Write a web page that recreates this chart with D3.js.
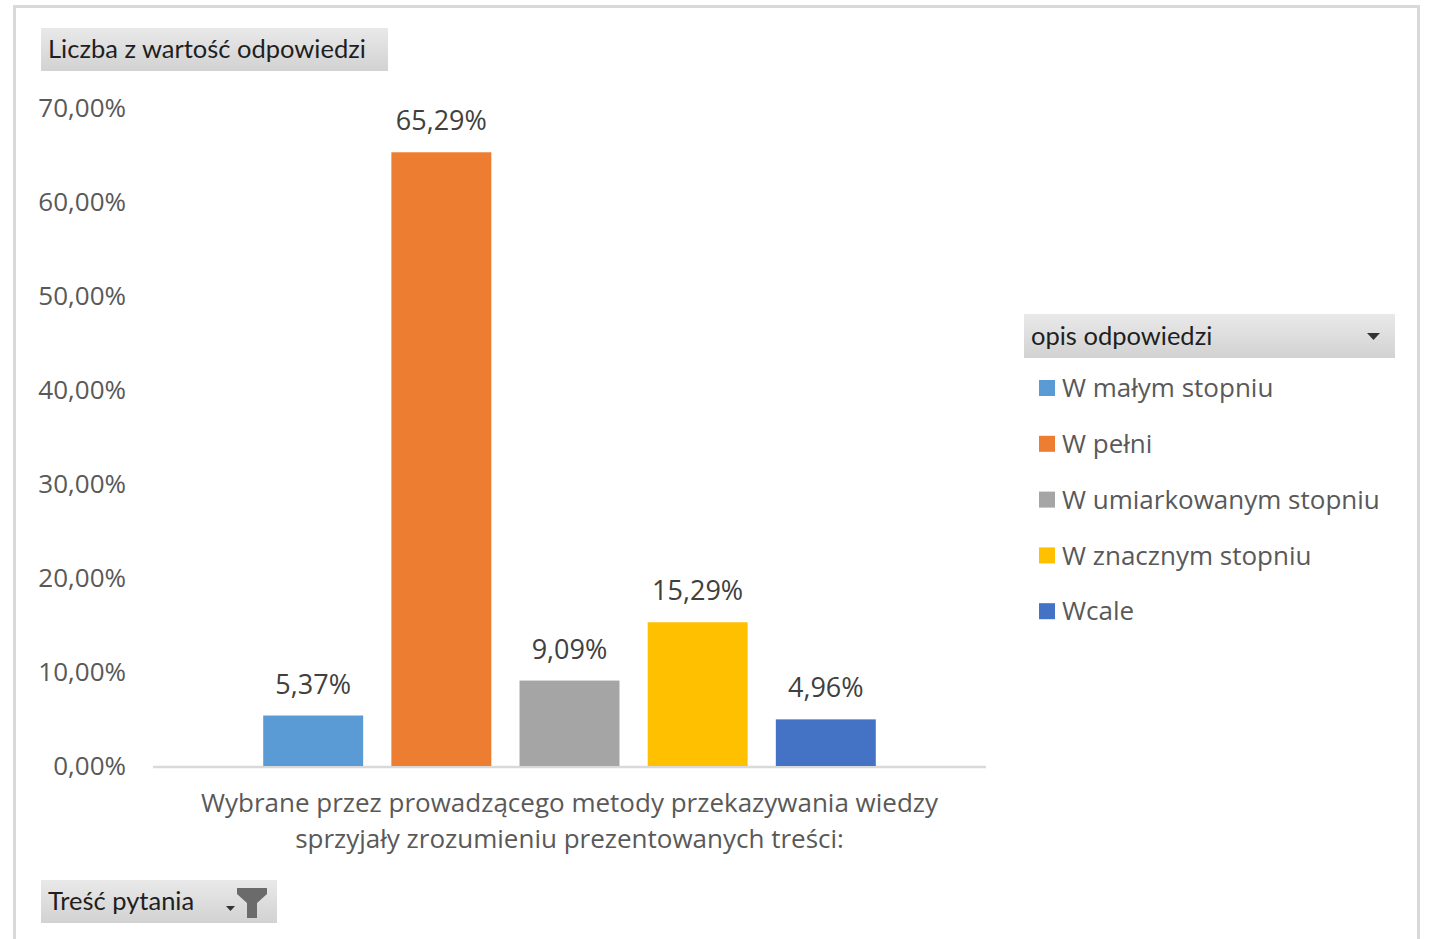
<!DOCTYPE html>
<html><head><meta charset="utf-8">
<script src="https://cdn.jsdelivr.net/npm/d3@7"></script>
<style>
html,body{margin:0;padding:0;background:#fff;}
svg{display:block;font-family:"Open Sans",Lato,sans-serif;}
</style></head>
<body>
<svg id="chart" width="1432" height="939"></svg>
<script>
const categories = ["Wybrane przez prowadzącego metody przekazywania wiedzy sprzyjały zrozumieniu prezentowanych treści:"];
const categoryLines = ["Wybrane przez prowadzącego metody przekazywania wiedzy", "sprzyjały zrozumieniu prezentowanych treści:"];
const seriesNames = ["W małym stopniu", "W pełni", "W umiarkowanym stopniu", "W znacznym stopniu", "Wcale"];
const seriesValues = [5.37, 65.29, 9.09, 15.29, 4.96];
const seriesColors = ["#5B9BD5", "#ED7D31", "#A5A5A5", "#FFC000", "#4472C4"];
const yTicks = [0, 10, 20, 30, 40, 50, 60, 70];
const valueButton = "Liczba z wartość odpowiedzi";
const legendTitle = "opis odpowiedzi";
const axisButton = "Treść pytania";

const fmt = v => v.toFixed(2).replace(".", ",") + "%";

const svg = d3.select("#chart");
const defs = svg.append("defs");
const grad = defs.append("linearGradient").attr("id","btn").attr("x1",0).attr("y1",0).attr("x2",0).attr("y2",1);
grad.append("stop").attr("offset","0%").attr("stop-color","#e9e9e9");
grad.append("stop").attr("offset","100%").attr("stop-color","#d2d2d2");

// outer frame
svg.append("rect").attr("x",14.5).attr("y",6.5).attr("width",1404).attr("height",960)
  .attr("fill","none").attr("stroke","#d9d9d9").attr("stroke-width",3);

const plot = {left:153, right:986, top:108, bottom:766};
const y = d3.scaleLinear().domain([0,70]).range([plot.bottom, plot.top]);
const x0 = d3.scaleBand().domain(categories).range([plot.left, plot.right]).paddingInner(0).paddingOuter(0.15);
const x1 = d3.scaleBand().domain(seriesNames).range([0, x0.bandwidth()]).paddingInner(0.22).paddingOuter(0.11);

// y axis labels
const yAxis = d3.axisLeft(y).tickValues(yTicks).tickFormat(d => fmt(d)).tickSize(0).tickPadding(0);
const gy = svg.append("g").attr("transform","translate(126,0)").call(yAxis);
gy.select(".domain").remove();
gy.selectAll("text").attr("fill","#595959").attr("font-size",26).attr("font-family","'Open Sans'").attr("dy","0.32em");

// x axis line
const xAxis = d3.axisBottom(x0).tickSize(0).tickFormat("");
const gx = svg.append("g").attr("transform",`translate(0,${plot.bottom+1})`).call(xAxis);
gx.select(".domain").attr("stroke","#d9d9d9").attr("stroke-width",2.5).attr("d",`M${plot.left},0H${plot.right}`);

// bars
const g = svg.append("g").selectAll("g").data(categories).join("g")
  .attr("transform", d => `translate(${x0(d)},0)`);
const bars = seriesNames.map((s,i)=>({name:s, value:seriesValues[i], color:seriesColors[i]}));
g.selectAll("rect").data(bars).join("rect")
  .attr("x", d => x1(d.name)).attr("width", x1.bandwidth())
  .attr("y", d => y(d.value)).attr("height", d => y(0) - y(d.value))
  .attr("fill", d => d.color);
g.selectAll("text.lbl").data(bars).join("text").attr("class","lbl")
  .attr("x", d => x1(d.name) + x1.bandwidth()/2).attr("y", d => y(d.value) - 22)
  .attr("text-anchor","middle").attr("fill","#404040").attr("font-size",27)
  .text(d => fmt(d.value));

// category label
const catX = x0(categories[0]) + x0.bandwidth()/2;
svg.append("text").attr("x",catX).attr("y",812).attr("text-anchor","middle")
  .attr("fill","#595959").attr("font-size",26)
  .selectAll("tspan").data(categoryLines).join("tspan")
  .attr("x",catX).attr("dy",(d,i)=> i===0?0:36).text(d=>d);

// buttons
function button(x, yy, w, h, label){
  const b = svg.append("g").attr("transform",`translate(${x},${yy})`);
  b.append("rect").attr("width",w).attr("height",h).attr("fill","url(#btn)");
  b.append("text").attr("x",7).attr("y",h/2).attr("dy","0.35em")
    .attr("font-family","Lato,sans-serif")
    .attr("fill","#1f1f1f").attr("font-size",25.5).text(label);
  return b;
}
button(41, 28, 347, 43, valueButton);
const lb = button(1024, 314, 371, 44, legendTitle);
lb.append("path").attr("d","M343,19h13l-6.5,7z").attr("fill","#333");
const ab = button(41, 880, 236, 43, axisButton);
ab.append("path").attr("d","M196,8h30v6l-10,9v15h-10v-15l-10,-9z").attr("fill","#6b6b6b");
ab.append("path").attr("d","M185,26h9l-4.5,5z").attr("fill","#333");

// legend
const leg = svg.append("g").selectAll("g").data(bars).join("g")
  .attr("transform",(d,i)=>`translate(1039,${388 + i*55.8})`);
leg.append("rect").attr("x",0).attr("y",-8).attr("width",16).attr("height",16).attr("fill",d=>d.color);
leg.append("text").attr("x",23).attr("dy","0.35em").attr("fill","#595959").attr("font-size",26).text(d=>d.name);
</script>
</body></html>
